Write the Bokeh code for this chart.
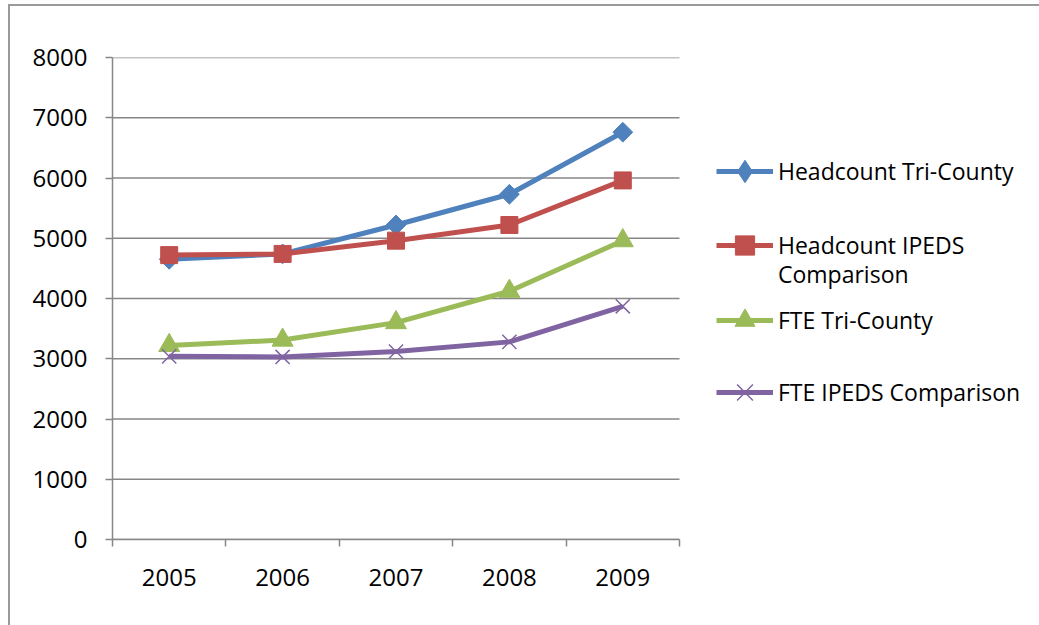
from bokeh.plotting import figure
from bokeh.models import Range1d, FixedTicker, Legend, LegendItem
from bokeh.embed import file_html
from bokeh.resources import INLINE
import math

years = ["2005", "2006", "2007", "2008", "2009"]
headcount_tri_county = [4650, 4740, 5220, 5730, 6760]
headcount_ipeds = [4720, 4740, 4960, 5220, 5960]
fte_tri_county = [3220, 3310, 3600, 4120, 4960]
fte_ipeds = [3040, 3030, 3120, 3280, 3870]
y_ticks = [0, 1000, 2000, 3000, 4000, 5000, 6000, 7000, 8000]

FONT = "Open Sans"
GRID = "#878787"

# plot area is 567px wide for the five year slots; the frame runs on to the
# right edge so the legend boxes can live inside it
PLOT_W = 567
FRAME_W = 927
n = len(years)
x_end = n * FRAME_W / PLOT_W

p = figure(
    frame_width=FRAME_W, frame_height=482,
    min_border_left=102, min_border_top=51, min_border_right=0, min_border_bottom=86,
    x_range=Range1d(0, x_end), y_range=Range1d(0, 8000),
    output_backend="svg", toolbar_location=None,
    margin=(4, 0, 0, 8),
    styles={"border-top": "2px solid #9a9a9a", "border-left": "2px solid #9a9a9a"},
)
p.outline_line_color = None
p.background_fill_color = "white"
p.border_fill_color = "white"

# category centres sit half a slot in from each boundary
xs = [i + 0.5 for i in range(n)]

# horizontal gridlines, limited to the plot area
p.segment(x0=[0] * len(y_ticks), x1=[n] * len(y_ticks), y0=y_ticks, y1=y_ticks,
          line_color=GRID, line_width=1.5)
p.xgrid.visible = False
p.ygrid.visible = False

# x axis: labels at slot centres, tick marks on slot boundaries
p.xaxis.bounds = (0, n)
p.xaxis.ticker = FixedTicker(ticks=xs, minor_ticks=list(range(n + 1)))
p.xaxis.major_label_overrides = {x: y for x, y in zip(xs, years)}
p.xaxis.major_tick_out = 0
p.xaxis.major_tick_in = 0
p.xaxis.minor_tick_out = 7
p.xaxis.minor_tick_in = 0
p.xaxis.minor_tick_line_color = GRID
p.xaxis.minor_tick_line_width = 1.5
p.xaxis.major_label_standoff = 22

p.yaxis.ticker = FixedTicker(ticks=y_ticks, minor_ticks=[])
p.yaxis.major_tick_out = 7
p.yaxis.major_tick_in = 0
p.yaxis.minor_tick_line_color = None
p.yaxis.major_label_standoff = 18

for ax in (p.xaxis, p.yaxis):
    ax.axis_line_color = GRID
    ax.axis_line_width = 1.5
    ax.major_tick_line_color = GRID
    ax.major_tick_line_width = 1.5
    ax.major_label_text_font = FONT
    ax.major_label_text_font_size = "24px"
    ax.major_label_text_color = "black"

BLUE, RED, GREEN, PURPLE = "#4F81BD", "#C0504D", "#9BBB59", "#8064A2"

# Headcount Tri-County: the legend draws markers unrotated, so its key uses a
# diamond marker that sits hidden beneath the rotated squares on the chart
hc_line = p.line(xs, headcount_tri_county, line_color=BLUE, line_width=5)
hc_key = p.scatter(xs, headcount_tri_county, marker="diamond", size=12,
                   fill_color=BLUE, line_color=BLUE)
p.scatter(xs, headcount_tri_county, marker="square", size=14, angle=math.pi / 4,
          fill_color=BLUE, line_color=BLUE)

hi_line = p.line(xs, headcount_ipeds, line_color=RED, line_width=5)
hi_mk = p.scatter(xs, headcount_ipeds, marker="square", size=17,
                  fill_color=RED, line_color=RED)

ft_line = p.line(xs, fte_tri_county, line_color=GREEN, line_width=5)
ft_mk = p.scatter(xs, fte_tri_county, marker="triangle", size=21,
                  fill_color=GREEN, line_color=GREEN)

fi_line = p.line(xs, fte_ipeds, line_color=PURPLE, line_width=5)
fi_mk = p.scatter(xs, fte_ipeds, marker="x", size=20, line_color=PURPLE, line_width=1.5)

# empty, invisible renderer for the wrapped second line of a legend label
blank = p.line(x=[], y=[], line_alpha=0)

# one legend box per line of legend text, each at its own height
entries = [
    ("Headcount Tri-County", [hc_line, hc_key], 171, 56),
    ("Headcount IPEDS", [hi_line, hi_mk], 245, 48),
    ("Comparison", [blank], 275, 30),
    ("FTE Tri-County", [ft_line, ft_mk], 320, 50),
    ("FTE IPEDS Comparison", [fi_line, fi_mk], 392, 56),
]
for label, rs, cy, h in entries:
    lg = Legend(items=[LegendItem(label=label, renderers=rs)],
                location=(604, 539 - cy - h / 2),
                padding=0, margin=0, spacing=0,
                border_line_alpha=0, background_fill_alpha=0,
                glyph_width=57, glyph_height=h, label_standoff=5,
                label_text_font=FONT, label_text_font_size="23px",
                label_text_color="black",
                label_height=h)
    p.add_layout(lg, "center")

html = file_html(p, INLINE)
open("out.html", "w").write(html)
